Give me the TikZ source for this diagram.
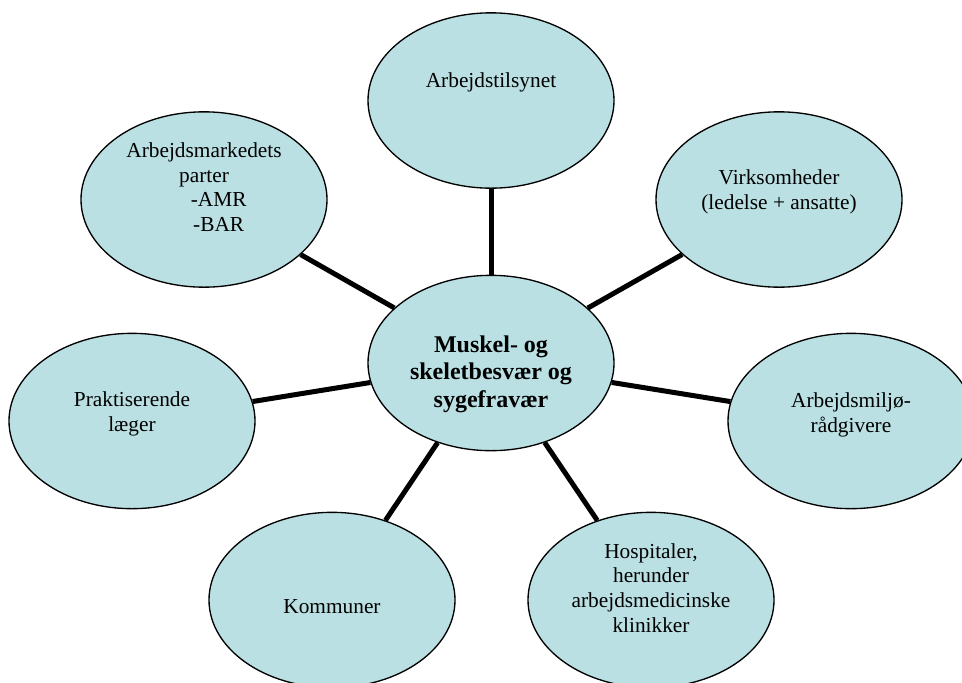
\documentclass[tikz,border=0pt]{standalone}
\usepackage{fontspec}
\setmainfont{Liberation Serif}
\usepackage{tikz}
\usetikzlibrary{calc,shapes.geometric}
\definecolor{bubblefill}{RGB}{186,224,227}

\begin{document}
\begin{tikzpicture}[x=0.75pt, y=-0.75pt,
    bubble/.style={ellipse, fill=bubblefill, draw=black, line width=1pt, minimum width=184.5pt, minimum height=131.5pt, inner sep=0pt},
    txt/.style={align=center, inner sep=0pt, font=\fontsize{16}{18.5}\selectfont},
    hubtxt/.style={align=center, inner sep=0pt, font=\fontsize{18}{20.6}\selectfont\bfseries},
    link/.style={line width=3.75pt}]
    \useasboundingbox (0,0) rectangle (962,682);

    \node[bubble] (hub) at (491,363) {};
    \node[hubtxt] (hub-t) at ($(hub) + (0, 11)$) {Muskel- og\\skeletbesvær og\\sygefravær};

    \node[bubble] (tilsyn) at ($(hub) + (0, -262.5)$) {};
    \node[txt] (tilsyn-t) at ($(tilsyn) + (0, -18.5)$) {Arbejdstilsynet};

    \node[bubble] (virksomheder) at ($(hub) + (288, -163.5)$) {};
    \node[txt] (virksomheder-t) at ($(virksomheder) + (0, -7.5)$) {Virksomheder\\(ledelse + ansatte)};

    \node[bubble] (miljo) at ($(hub) + (360, 58)$) {};
    \node[txt] (miljo-t) at ($(miljo) + (0, -6)$) {Arbejdsmiljø-\\rådgivere};

    \node[bubble] (hospital) at ($(hub) + (160, 237)$) {};
    \node[txt] (hospital-t) at ($(hospital) + (0, -12)$) {Hospitaler,\\herunder\\arbejdsmedicinske\\klinikker};

    \node[bubble] (kommuner) at ($(hub) + (-159, 237)$) {};
    \node[txt] (kommuner-t) at ($(kommuner) + (0, 7)$) {Kommuner};

    \node[bubble] (laeger) at ($(hub) + (-359, 58)$) {};
    \node[txt] (laeger-t) at ($(laeger) + (0, -7)$) {Praktiserende\\læger};

    \node[bubble] (parter) at ($(hub) + (-287, -163.5)$) {};
    \node[txt] (parter-t) at ($(parter) + (0, -12.5)$) {Arbejdsmarkedets\\parter\\\hspace*{22pt}-AMR\\\hspace*{22pt}-BAR};

    \draw[link] (hub) -- (tilsyn);
    \draw[link] (hub) -- (virksomheder);
    \draw[link] (hub) -- (miljo);
    \draw[link] (hub) -- (hospital);
    \draw[link] (hub) -- (kommuner);
    \draw[link] (hub) -- (laeger);
    \draw[link] (hub) -- (parter);

\end{tikzpicture}
\end{document}
